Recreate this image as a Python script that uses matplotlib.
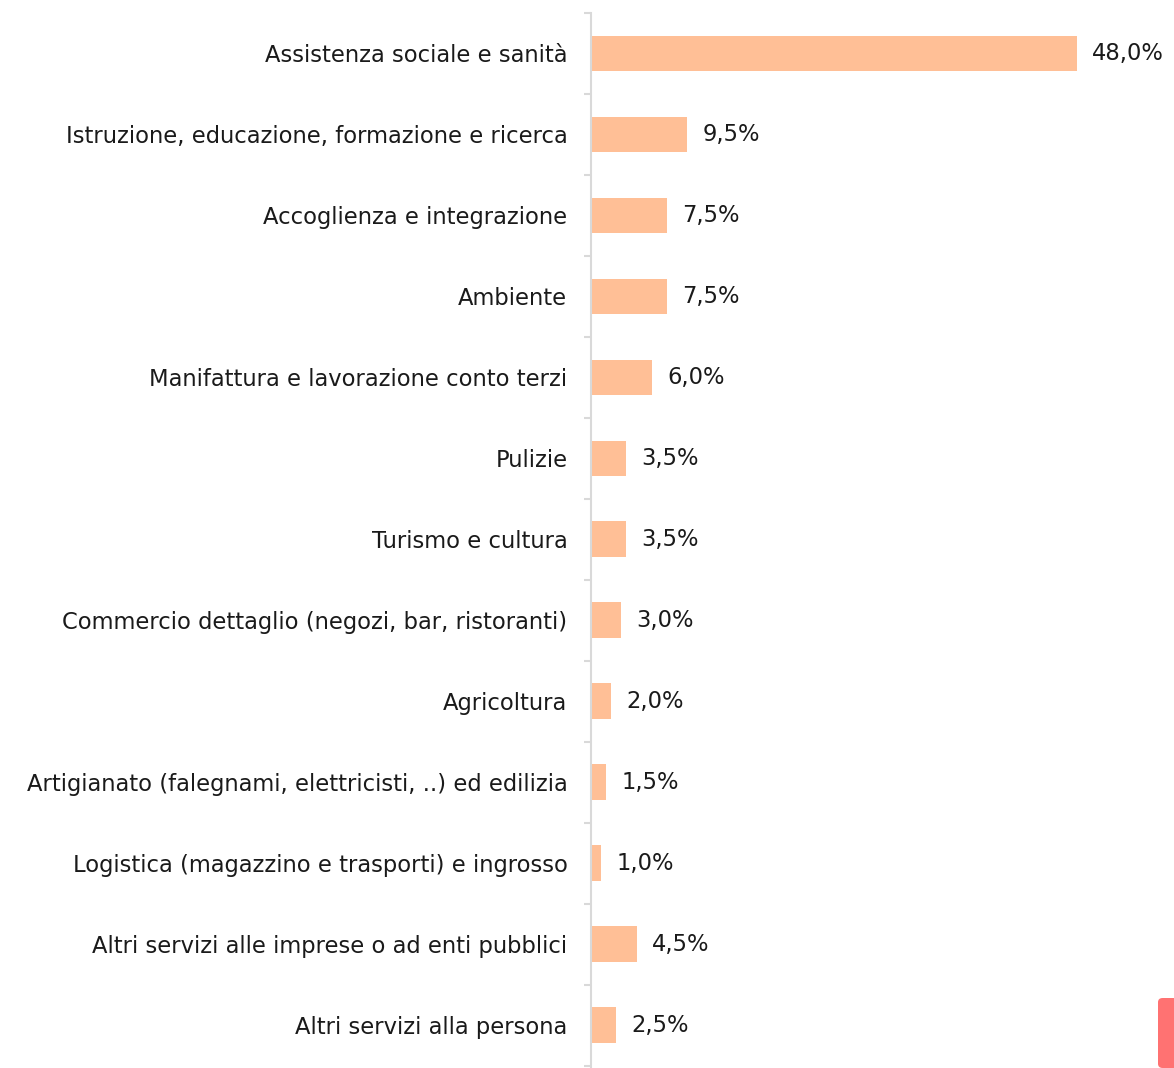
import numpy as np
import matplotlib.pyplot as plt
from matplotlib.patches import FancyBboxPatch

# ============================================================
# DATA
# ============================================================
categories = [
    "Assistenza sociale e sanità",
    "Istruzione, educazione, formazione e ricerca",
    "Accoglienza e integrazione",
    "Ambiente",
    "Manifattura e lavorazione conto terzi",
    "Pulizie",
    "Turismo e cultura",
    "Commercio dettaglio (negozi, bar, ristoranti)",
    "Agricoltura",
    "Artigianato (falegnami, elettricisti, ..) ed edilizia",
    "Logistica (magazzino e trasporti) e ingrosso",
    "Altri servizi alle imprese o ad enti pubblici",
    "Altri servizi alla persona",
]
values = [48.0, 9.5, 7.5, 7.5, 6.0, 3.5, 3.5, 3.0, 2.0, 1.5, 1.0, 4.5, 2.5]

BAR_COLOR = "#FFBF96"
AXIS_COLOR = "#D9D9D9"
TEXT_COLOR = "#1a1a1a"
FS = 16.3

plt.rcParams['font.family'] = 'DejaVu Sans'

fig = plt.figure(figsize=(11.74, 10.68), dpi=100, facecolor='white')
ax = fig.add_axes([591 / 1174, 0.0, 1 - 591 / 1174, 1 - 13 / 1068])

y = np.arange(len(categories))
ax.barh(y, values, height=0.44, color=BAR_COLOR, edgecolor='none', zorder=2)

ax.set_xlim(0, 57.6)
ax.set_ylim(len(categories) - 0.5 + 0.03, -0.5)

# value labels with comma decimal
for yi, v in zip(y, values):
    ax.text(v + 1.5, yi, f"{v:.1f}%".replace(".", ","), va='center', ha='left',
            fontsize=FS, color=TEXT_COLOR)

for s in ["top", "right", "bottom"]:
    ax.spines[s].set_visible(False)
ax.spines["left"].set_color(AXIS_COLOR)
ax.spines["left"].set_linewidth(1.5)
ax.set_xticks([])

ax.set_yticks(y)
ax.set_yticklabels(categories, fontsize=FS, color=TEXT_COLOR)
ax.tick_params(axis='y', which='major', length=0, pad=17)
ax.set_yticks(np.arange(-0.5, len(categories), 1.0), minor=True)
ax.tick_params(axis='y', which='minor', length=5, width=1.5, color=AXIS_COLOR)

# small red marker in the lower right corner
fig.patches.append(FancyBboxPatch((1158 / 1174, 0), 20 / 1174, 70 / 1068,
                                  boxstyle="round,pad=0,rounding_size=0.004",
                                  transform=fig.transFigure, facecolor="#FF7272",
                                  edgecolor='none', figure=fig))

fig.savefig("out.png", dpi=100, facecolor='white')
